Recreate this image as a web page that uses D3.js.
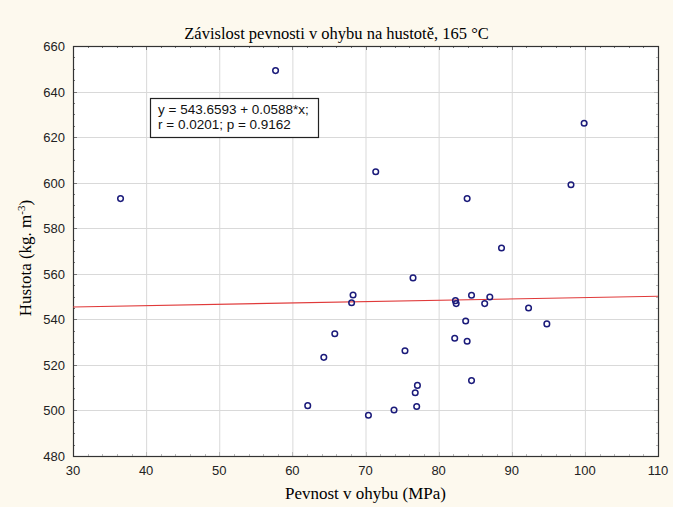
<!DOCTYPE html>
<html>
<head>
<meta charset="utf-8">
<script src="https://cdn.jsdelivr.net/npm/d3@7"></script>
<style>
  body { margin: 0; background: #fdf9ee; }
  svg { display: block; }
</style>
</head>
<body>
<figure style="margin:0"></figure>
<script>
const width = 673
const height = 507
const margin = { top: 46, right: 15, bottom: 51, left: 73 }

// data
const pevnost = [36.5, 57.7, 62.1, 64.3, 65.8, 68.1, 68.3, 70.4, 71.4, 73.9,
  75.4, 76.5, 76.8, 77.0, 77.1, 82.2, 82.3, 82.4, 83.7, 83.9,
  83.9, 84.5, 84.5, 86.3, 87.0, 88.6, 92.3, 94.8, 98.1, 99.9]
const hustota = [593.0, 649.2, 502.1, 523.3, 533.7, 547.3, 550.7, 497.9, 604.8, 500.2,
  526.2, 558.2, 507.8, 501.7, 511.0, 531.7, 548.2, 546.9, 539.3, 593.0,
  530.4, 550.6, 513.1, 546.9, 549.8, 571.3, 545.0, 538.0, 599.1, 626.1]
const xTicks = [30, 40, 50, 60, 70, 80, 90, 100, 110]
const yTicks = [480, 500, 520, 540, 560, 580, 600, 620, 640, 660]
const fit = { a: 543.6593, b: 0.0588 }
const annot = ['y = 543.6593 + 0.0588*x;', 'r = 0.0201; p = 0.9162']

const points = pevnost.map((d, i) => ({ x: d, y: hustota[i] }))

const svg = d3.select('figure').append('svg')
  .attr('width', width)
  .attr('height', height)

const x = d3.scaleLinear().domain([30, 110]).range([margin.left, width - margin.right])
const y = d3.scaleLinear().domain([480, 660]).range([height - margin.bottom, margin.top])

// plot area
svg.append('rect')
  .attr('x', x(30)).attr('y', y(660))
  .attr('width', x(110) - x(30)).attr('height', y(480) - y(660))
  .attr('fill', '#fff')

// grid
svg.append('g').selectAll('line').data(xTicks.slice(1, -1)).join('line')
  .attr('x1', d => x(d) + 0.5).attr('x2', d => x(d) + 0.5)
  .attr('y1', y(660)).attr('y2', y(480))
  .attr('stroke', '#d9d9d9')
svg.append('g').selectAll('line').data(yTicks.slice(1, -1)).join('line')
  .attr('y1', d => Math.round(y(d)) + 0.5).attr('y2', d => Math.round(y(d)) + 0.5)
  .attr('x1', x(30)).attr('x2', x(110))
  .attr('stroke', '#d9d9d9')

// minor ticks, inside the frame
const xMinor = d3.range(30, 110.1, 2)
const yMinor = d3.range(480, 660.1, 5)
const ticks = svg.append('g').attr('stroke', '#777').attr('stroke-width', 1)
ticks.selectAll('.tt').data(xMinor).join('line').attr('class', 'tt')
  .attr('x1', d => Math.round(x(d)) + 0.5).attr('x2', d => Math.round(x(d)) + 0.5)
  .attr('y1', y(660)).attr('y2', d => y(660) + (d % 10 === 0 ? 4 : 2))
ticks.selectAll('.tb').data(xMinor).join('line').attr('class', 'tb')
  .attr('x1', d => Math.round(x(d)) + 0.5).attr('x2', d => Math.round(x(d)) + 0.5)
  .attr('y1', y(480)).attr('y2', d => y(480) - (d % 10 === 0 ? 4 : 2))
  .attr('stroke', '#bbb')
ticks.selectAll('.tl').data(yMinor).join('line').attr('class', 'tl')
  .attr('y1', d => Math.round(y(d)) + 0.5).attr('y2', d => Math.round(y(d)) + 0.5)
  .attr('x1', x(30)).attr('x2', d => x(30) + (d % 20 === 0 ? 4 : 2))
ticks.selectAll('.tr').data(yMinor).join('line').attr('class', 'tr')
  .attr('y1', d => Math.round(y(d)) + 0.5).attr('y2', d => Math.round(y(d)) + 0.5)
  .attr('x1', x(110)).attr('x2', d => x(110) - (d % 20 === 0 ? 4 : 2))
  .attr('stroke', '#bbb')

// frame
svg.append('rect')
  .attr('x', x(30) + 0.5).attr('y', y(660) + 0.5)
  .attr('width', x(110) - x(30)).attr('height', y(480) - y(660))
  .attr('fill', 'none').attr('stroke', '#333').attr('stroke-width', 1.2)

// axes labels
svg.append('g').selectAll('text').data(xTicks).join('text')
  .attr('x', d => x(d)).attr('y', y(480) + 19)
  .attr('text-anchor', 'middle')
  .style('font', '13px "Liberation Sans", Arial, sans-serif')
  .attr('fill', '#222')
  .text(d => d)
svg.append('g').selectAll('text').data(yTicks).join('text')
  .attr('x', x(30) - 8).attr('y', d => y(d) + 5)
  .attr('text-anchor', 'end')
  .style('font', '13px "Liberation Sans", Arial, sans-serif')
  .attr('fill', '#222')
  .text(d => d)

// regression line
const line = d3.line().x(d => x(d)).y(d => y(fit.a + fit.b * d))
svg.append('path')
  .attr('d', line([30, 110]))
  .attr('stroke', '#e03a3a').attr('stroke-width', 1.2).attr('fill', 'none')

// points
svg.append('g').selectAll('circle').data(points).join('circle')
  .attr('cx', d => x(d.x)).attr('cy', d => y(d.y))
  .attr('r', 2.8)
  .attr('fill', 'none').attr('stroke', '#1a1a7a').attr('stroke-width', 1.5)

// annotation box
const box = svg.append('g').attr('transform', 'translate(150,98)')
box.append('rect').attr('x', 0.5).attr('y', 0.5).attr('width', 168).attr('height', 39)
  .attr('fill', '#fff').attr('stroke', '#222').attr('stroke-width', 1.2)
box.selectAll('text').data(annot).join('text')
  .attr('x', 8).attr('y', (d, i) => 16 + i * 15)
  .style('font', '13.5px "Liberation Sans", Arial, sans-serif')
  .attr('fill', '#111')
  .text(d => d)

// titles
svg.append('text')
  .attr('x', width / 2).attr('y', 39)
  .attr('text-anchor', 'middle')
  .style('font', '16.5px "Liberation Serif", "Times New Roman", serif')
  .text('Závislost pevnosti v ohybu na hustotě, 165 °C')
svg.append('text')
  .attr('x', (x(30) + x(110)) / 2).attr('y', 499)
  .attr('text-anchor', 'middle')
  .style('font', '17px "Liberation Serif", "Times New Roman", serif')
  .text('Pevnost v ohybu (MPa)')
const yl = svg.append('text')
  .attr('transform', 'translate(31,258) rotate(-90)')
  .attr('text-anchor', 'middle')
  .style('font', '17px "Liberation Serif", "Times New Roman", serif')
yl.append('tspan').text('Hustota (kg. m')
yl.append('tspan').attr('dy', -6).style('font-size', '11px').text('-3')
yl.append('tspan').attr('dy', 6).text(')')
</script>
</body>
</html>
